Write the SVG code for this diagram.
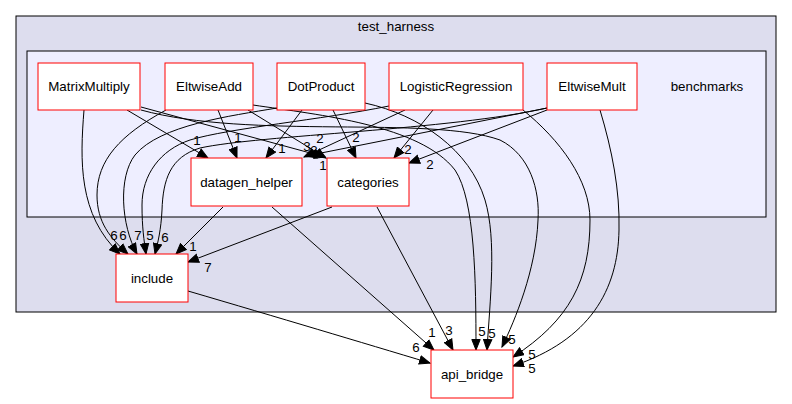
<svg xmlns="http://www.w3.org/2000/svg" width="792" height="404" viewBox="0 0 792 404">
<style>
text{font-family:"Liberation Sans",Arial,sans-serif;font-size:13.33px;fill:#000;text-anchor:middle}
.node rect{fill:#fff;stroke:#ff0000;stroke-width:1}
.edges path{fill:none;stroke:#000;stroke-width:1;marker-end:url(#ah)}
.cl{stroke:#000;stroke-width:1}
</style>
<defs>
<marker id="ah" markerWidth="12" markerHeight="10" refX="11" refY="5" orient="auto" markerUnits="userSpaceOnUse">
<path d="M0.5,0.8 L11,5 L0.5,9.2 z" fill="#000" stroke="#000" stroke-width="1"/>
</marker>
</defs>
<g id="cluster_test_harness">
<rect class="cl" x="16" y="16" width="760" height="296" fill="#ddddee"/>
<text x="396" y="31">test_harness</text>
</g>
<g id="cluster_benchmarks">
<rect class="cl" x="27" y="51" width="739" height="166" fill="#eeeeff"/>
<text x="707" y="91">benchmarks</text>
</g>
<g class="edges" id="edges">
<path d="M84,110 C80,160 78,215 120,254"/>
<path d="M166,110 C120,135 97,160 97,195 C97,222 110,238 128,254"/>
<path d="M277,108 C230,116 160,125 135,155 C118,177 121,225 137,254"/>
<path d="M389,106 C320,120 230,128 190,140 C160,150 142,175 142,205 C142,228 144,240 146,254"/>
<path d="M547,108 C450,130 260,135 200,148 C170,157 163,180 162,210 C161,230 158,242 155,254"/>
<path d="M223,207 L176,254"/>
<path d="M332,207 L188,262"/>
<path d="M127,110 L208,158"/>
<path d="M218,110 L237,158"/>
<path d="M302,110 L266,158"/>
<path d="M405,110 L304,157"/>
<path d="M547,108 L306,156"/>
<path d="M141,107 L325,157"/>
<path d="M248,110 L326,158"/>
<path d="M333,110 L356,158"/>
<path d="M433,110 L394,158"/>
<path d="M547,110 L409,163"/>
<path d="M272,207 L434,350"/>
<path d="M377,207 L453,350"/>
<path d="M188,291 C280,318 360,342 430,363"/>
<path d="M253,105 C320,115 420,125 455,170 C475,200 476,280 476,350"/>
<path d="M365,103 C420,115 470,150 485,200 C497,240 490,300 487,350"/>
<path d="M141,110 C250,140 430,115 500,140 C530,155 540,190 538,220 C536,270 515,320 502,347"/>
<path d="M523,110 C560,140 590,180 590,220 C590,280 570,320 513,357"/>
<path d="M600,110 C612,150 620,190 619,230 C618,290 590,340 513,366"/>
</g>
<g id="edge_labels">
<text x="114" y="240">6</text>
<text x="123" y="240">6</text>
<text x="138" y="240">7</text>
<text x="150" y="240">5</text>
<text x="165" y="242">6</text>
<text x="193" y="251">1</text>
<text x="208" y="272">7</text>
<text x="197" y="145">1</text>
<text x="238" y="142">1</text>
<text x="282" y="153">1</text>
<text x="320" y="143">2</text>
<text x="307" y="151">3</text>
<text x="314" y="155">2</text>
<text x="323" y="170">1</text>
<text x="356" y="142">2</text>
<text x="408" y="154">2</text>
<text x="430" y="169">2</text>
<text x="432" y="337">1</text>
<text x="449" y="335">3</text>
<text x="416" y="352">6</text>
<text x="482" y="336">5</text>
<text x="492" y="338">5</text>
<text x="512" y="344">5</text>
<text x="532" y="359">5</text>
<text x="532" y="373">5</text>
</g>
<g id="MatrixMultiply" class="node"><rect x="38" y="63" width="102" height="47"/><text x="89" y="91">MatrixMultiply</text></g>
<g id="EltwiseAdd" class="node"><rect x="165" y="63" width="88" height="47"/><text x="209" y="91">EltwiseAdd</text></g>
<g id="DotProduct" class="node"><rect x="277" y="63" width="88" height="47"/><text x="321" y="91">DotProduct</text></g>
<g id="LogisticRegression" class="node"><rect x="389" y="63" width="134" height="47"/><text x="456" y="91">LogisticRegression</text></g>
<g id="EltwiseMult" class="node"><rect x="547" y="63" width="90" height="47"/><text x="592" y="91">EltwiseMult</text></g>
<g id="datagen_helper" class="node"><rect x="191" y="158" width="111" height="48"/><text x="246.5" y="187">datagen_helper</text></g>
<g id="categories" class="node"><rect x="327" y="158" width="82" height="48"/><text x="368" y="187">categories</text></g>
<g id="include" class="node"><rect x="116" y="254" width="72" height="48"/><text x="152" y="283">include</text></g>
<g id="api_bridge" class="node"><rect x="431" y="350" width="82" height="48"/><text x="472" y="379">api_bridge</text></g>
</svg>
